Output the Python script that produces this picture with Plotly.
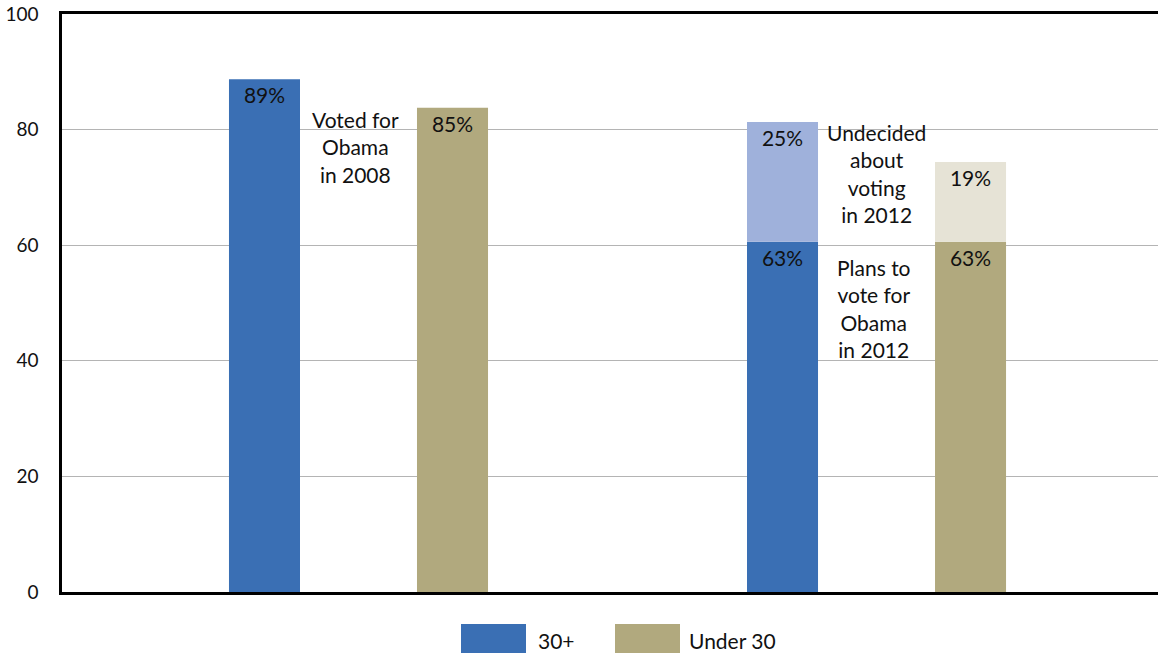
import plotly.graph_objects as go

# ---- data ----
groups = ["2008", "2012"]
series_names = ["30+", "Under 30"]
base_30plus = [88.7, 60.6]          # bar heights
base_under30 = [83.8, 60.6]
undecided_30plus = [20.7]           # 2012 only, stacked on base
undecided_under30 = [13.8]
labels_30plus = ["89%", "63%"]
labels_under30 = ["85%", "63%"]
labels_und_30plus = ["25%"]
labels_und_under30 = ["19%"]
annot_texts = ["Voted for<br>Obama<br>in 2008",
               "Undecided<br>about<br>voting<br>in 2012",
               "Plans to<br>vote for<br>Obama<br>in 2012"]
y_ticks = [0, 20, 40, 60, 80, 100]

# ---- style ----
C_BLUE = "#3A6FB4"
C_TAN = "#B1A97E"
C_LBLUE = "#9FB1DB"
C_LTAN = "#E6E3D6"
FONT = "Lato"
W = 0.1296
off_blue = [-0.1953, -0.25]
off_tan = [0.1478, 0.0931]

lbl_font = dict(family=FONT, size=21, color="#111111")


def bar(x, y, col, off, txt, base=None):
    return go.Bar(x=x, y=y, base=base, marker_color=col, width=W, offset=off, text=txt,
                  textposition="inside", insidetextanchor="end", textfont=lbl_font,
                  showlegend=False, marker_line_width=0, textangle=0, cliponaxis=False)


fig = go.Figure()
fig.add_trace(bar(groups, base_30plus, C_BLUE, off_blue, labels_30plus))
fig.add_trace(bar(groups, base_under30, C_TAN, off_tan, labels_under30))
fig.add_trace(bar(groups[1:], undecided_30plus, C_LBLUE, off_blue[1:], labels_und_30plus,
                  base=base_30plus[1:]))
fig.add_trace(bar(groups[1:], undecided_under30, C_LTAN, off_tan[1:], labels_und_under30,
                  base=base_under30[1:]))

ann_font = dict(family=FONT, size=21, color="#111111")
ann_pos = [(0.268, 77.0), (0.7436, 72.4), (0.741, 49.0)]
annotations = []
for t, (ax, ay) in zip(annot_texts, ann_pos):
    annotations.append(dict(text=t, x=ax, y=ay, xref="paper", yref="y", showarrow=False,
                            font=ann_font, align="center", xanchor="center", yanchor="middle"))

# custom legend (large swatches), positions in page pixels converted to paper coords
PL, PW, PB, PH = 62, 1096, 592, 578
shapes = []
leg = [(C_BLUE, series_names[0], 461, 536), (C_TAN, series_names[1], 615, 687)]
for col, name, sx, tx in leg:
    shapes.append(dict(type="rect", xref="paper", yref="paper",
                       x0=(sx - PL) / PW, x1=(sx + 65 - PL) / PW,
                       y0=-(655 - PB) / PH, y1=-(624 - PB) / PH,
                       fillcolor=col, line_width=0))
    annotations.append(dict(text=name, x=(tx - PL) / PW, y=-(640 - PB) / PH,
                            xref="paper", yref="paper", showarrow=False, xanchor="left",
                            yanchor="middle", font=dict(family=FONT, size=21, color="#111111")))

fig.update_layout(
    width=1158, height=653,
    margin=dict(l=62, r=0, t=14, b=61),
    barmode="overlay",
    plot_bgcolor="white", paper_bgcolor="white",
    font=dict(family=FONT, size=19, color="#111111"),
    showlegend=False,
    annotations=annotations,
    shapes=shapes,
    xaxis=dict(type="category", range=[-0.5, 1.5], showticklabels=False, showgrid=False,
               showline=True, linecolor="black", linewidth=2.5, mirror=True, ticks=""),
    yaxis=dict(range=[0, 100], tickvals=y_ticks, showgrid=True, gridcolor="#b4b4b4",
               gridwidth=1.2, showline=True, linecolor="black", linewidth=2.5, zeroline=False,
               ticks="", ticklabelstandoff=17, tickfont=dict(family=FONT, size=19, color="#111111")),
)

fig.write_html("out.html", config={"displayModeBar": False},
               post_script="document.body.style.margin='0';document.body.style.overflow='hidden';")
